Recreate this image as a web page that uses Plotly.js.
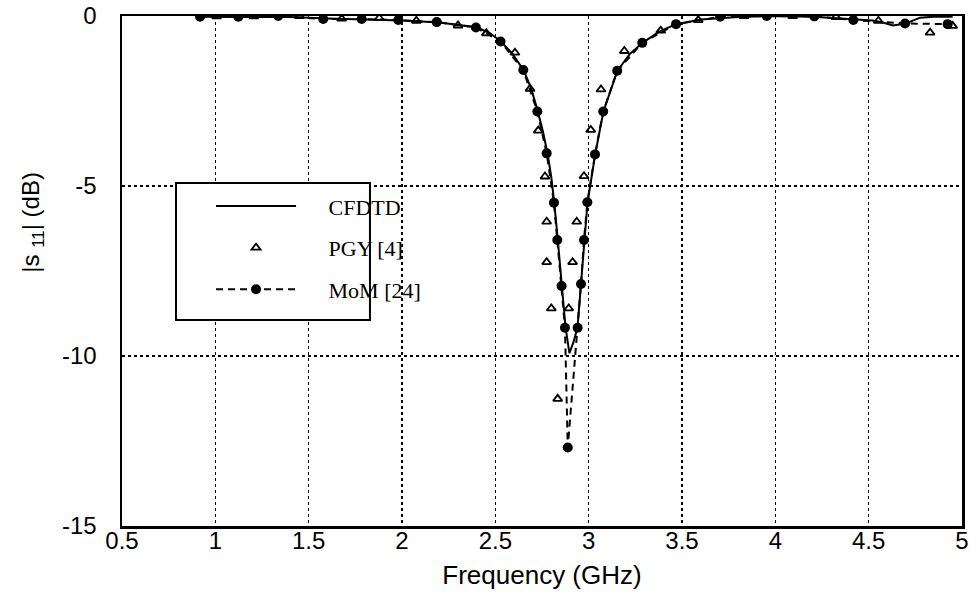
<!DOCTYPE html>
<html>
<head>
<meta charset="utf-8">
<script src="https://cdn.plot.ly/plotly-3.0.1.min.js"></script>
<style>html,body{margin:0;padding:0;background:#fff;}#chart{width:976px;height:594px;}</style>
</head>
<body>
<div id="chart"></div>
<script>
// CFDTD (solid line)
const cfdtdFreq = [0.92, 1.0, 1.2, 1.4, 1.6, 1.8, 2.0, 2.2, 2.4, 2.47, 2.53, 2.59, 2.65, 2.69, 2.725, 2.755, 2.78, 2.8, 2.815, 2.834, 2.857, 2.876, 2.897, 2.918, 2.94, 2.96, 2.976, 2.994, 3.035, 3.079, 3.154, 3.22, 3.288, 3.38, 3.47, 3.6, 3.8, 4.0, 4.2, 4.4, 4.52, 4.58, 4.63, 4.70, 4.775, 4.85, 4.95];
const cfdtdDb   = [-0.02, -0.02, -0.02, -0.03, -0.07, -0.09, -0.13, -0.19, -0.33, -0.5, -0.75, -1.1, -1.58, -2.1, -2.75, -3.4, -4.05, -4.75, -5.45, -6.55, -7.9, -9.15, -9.92, -9.6, -9.17, -7.88, -6.59, -5.48, -4.07, -2.81, -1.61, -1.12, -0.79, -0.45, -0.24, -0.1, -0.03, 0.0, -0.02, -0.1, -0.13, -0.2, -0.28, -0.22, -0.05, -0.02, -0.02];

// PGY [4] (open triangles)
const pgyFreq = [1.007, 1.207, 1.45, 1.677, 1.878, 2.077, 2.30, 2.452, 2.605, 2.686, 2.730, 2.766, 2.775, 2.775, 2.800, 2.834, 2.893, 2.914, 2.936, 2.975, 3.011, 3.066, 3.191, 3.386, 3.587, 3.832, 4.093, 4.325, 4.552, 4.829, 4.950];
const pgyDb   = [-0.01, -0.01, 0.0, -0.08, -0.06, -0.14, -0.28, -0.51, -1.08, -2.14, -3.37, -4.72, -6.05, -7.24, -8.60, -11.26, -8.60, -7.24, -6.05, -4.71, -3.35, -2.16, -1.03, -0.43, -0.12, 0.0, 0.0, -0.03, -0.14, -0.49, -0.29];

// MoM [24] (filled circles, dashed line)
const momFreq = [0.918, 1.123, 1.337, 1.578, 1.784, 1.980, 2.186, 2.396, 2.528, 2.650, 2.725, 2.775, 2.814, 2.832, 2.855, 2.873, 2.888, 2.941, 2.959, 2.975, 2.993, 3.034, 3.078, 3.153, 3.287, 3.468, 3.704, 3.954, 4.209, 4.418, 4.695, 4.923];
const momDb   = [-0.02, -0.02, 0.0, -0.09, -0.09, -0.12, -0.18, -0.34, -0.75, -1.59, -2.81, -4.04, -5.49, -6.59, -7.94, -9.17, -12.69, -9.17, -7.88, -6.59, -5.48, -4.07, -2.81, -1.61, -0.79, -0.24, -0.02, 0.0, -0.01, -0.12, -0.22, -0.24];

const xTicks = [0.5, 1, 1.5, 2, 2.5, 3, 3.5, 4, 4.5, 5];
const xTickText = ["0.5", "1", "1.5", "2", "2.5", "3", "3.5", "4", "4.5", "5"];
const yTicks = [-15, -10, -5, 0];
const yTickText = ["-15", "-10", "-5", "0"];

const sans = "Liberation Sans, Arial, sans-serif";
const serif = "Liberation Serif, Times New Roman, serif";
const pad = "\u00a0\u00a0\u00a0\u00a0\u00a0";

const traces = [
  {x: cfdtdFreq, y: cfdtdDb, name: pad + "CFDTD", mode: "lines", legendgroup: "a",
   line: {color: "#000", width: 2}},
  {x: pgyFreq, y: pgyDb, name: pad + "PGY [4]", mode: "markers", legendgroup: "b",
   marker: {symbol: "triangle-up-open", size: 8, color: "#000", line: {color: "#000", width: 1.8}}},
  {x: momFreq, y: momDb, name: pad + "MoM [24]", mode: "lines+markers", legendgroup: "c",
   line: {color: "#000", width: 2, dash: "7px,5px"},
   marker: {symbol: "circle", size: 10, color: "#000"}}
];

const layout = {
  width: 976, height: 594,
  margin: {l: 122, r: 14, t: 16, b: 68},
  paper_bgcolor: "#fff", plot_bgcolor: "#fff",
  showlegend: true,
  xaxis: {
    range: [0.5, 5], tickvals: xTicks, ticktext: xTickText,
    showline: true, mirror: true, linecolor: "#000", linewidth: 2.5,
    showgrid: true, gridcolor: "#000", gridwidth: 1.5, griddash: "dot",
    zeroline: false, ticks: "", ticklabelstandoff: -8,
    tickfont: {family: sans, size: 24, color: "#000"},
    title: {text: "Frequency (GHz)", font: {family: sans, size: 26, color: "#000"}, standoff: 13}
  },
  yaxis: {
    range: [-15, 0], tickvals: yTicks, ticktext: yTickText,
    showline: true, mirror: true, linecolor: "#000", linewidth: 2.5,
    showgrid: true, gridcolor: "#000", gridwidth: 1.5, griddash: "dot",
    zeroline: false, ticks: "", ticklabelstandoff: 18,
    tickfont: {family: sans, size: 24, color: "#000"}
  },
  annotations: [{
    text: "|s <sub>11</sub>| (dB)", textangle: -90, showarrow: false,
    xref: "paper", yref: "paper", x: -0.107, y: 0.595, xanchor: "center", yanchor: "middle",
    font: {family: sans, size: 24, color: "#000"}
  }],
  shapes: [{
    type: "rect", xref: "paper", yref: "paper", layer: "above",
    x0: 0.0643, x1: 0.2952, y0: 0.404, y1: 0.6725,
    line: {color: "#000", width: 2}, fillcolor: "#fff"
  }],
  legend: {
    x: 0.106, y: 0.668, xanchor: "left", yanchor: "top",
    bgcolor: "rgba(0,0,0,0)", borderwidth: 0,
    itemwidth: 80, tracegroupgap: 10, itemclick: false,
    font: {family: serif, size: 22, color: "#000"}
  }
};

Plotly.newPlot("chart", traces, layout, {displayModeBar: false, staticPlot: true});
</script>
</body>
</html>
